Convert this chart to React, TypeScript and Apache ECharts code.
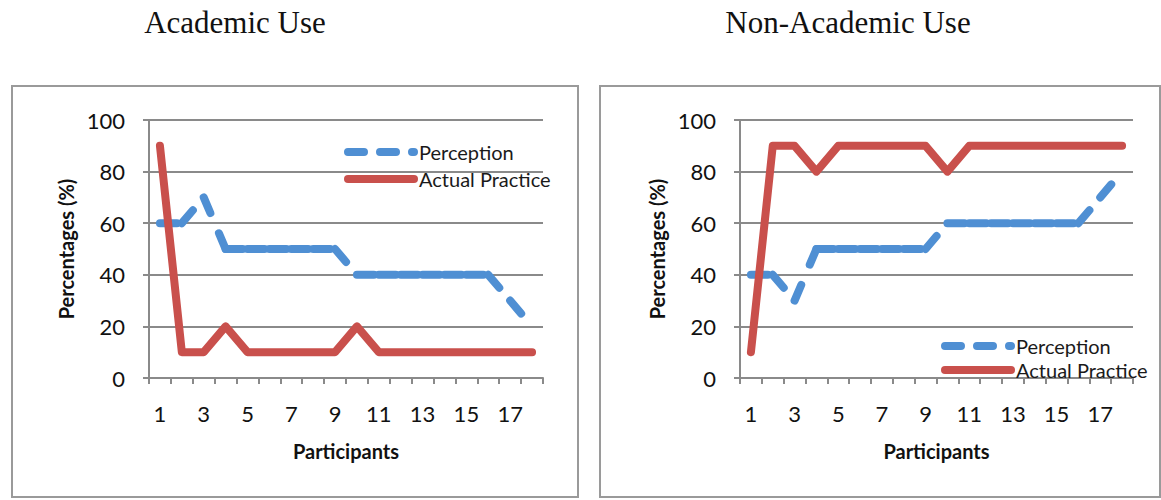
import React, { useEffect, useRef } from 'react';
import * as echarts from 'echarts';

const participants = ['1', '2', '3', '4', '5', '6', '7', '8', '9', '10', '11', '12', '13', '14', '15', '16', '17', '18'];
const academicPerception = [60, 60, 70, 50, 50, 50, 50, 50, 50, 40, 40, 40, 40, 40, 40, 40, 30, 20];
const academicPractice = [90, 10, 10, 20, 10, 10, 10, 10, 10, 20, 10, 10, 10, 10, 10, 10, 10, 10];
const nonAcademicPerception = [40, 40, 30, 50, 50, 50, 50, 50, 50, 60, 60, 60, 60, 60, 60, 60, 70, 80];
const nonAcademicPractice = [10, 90, 90, 80, 90, 90, 90, 90, 90, 80, 90, 90, 90, 90, 90, 90, 90, 90];
const panelTitles = ['Academic Use', 'Non-Academic Use'];
const seriesNames = ['Perception', 'Actual Practice'];
const yMin = 0;
const yMax = 100;
const yStep = 20;

const BLUE = '#4f8fd3';
const RED = '#c9504c';
const AXIS_GRAY = '#8a8a8a';
const SANS = 'Lato';
const DASH = [17, 22];
const LEGEND_DASH = [16, 16];

function perceptionSegments(values: number[], axisIndex: number) {
  // Excel restarts the dash pattern on every segment, so each segment is its own series
  const out: any[] = [];
  for (let i = 0; i < values.length - 1; i++) {
    const data = values.map((v, j) => (j === i || j === i + 1 ? v : null));
    out.push({
      type: 'line',
      name: seriesNames[0],
      xAxisIndex: axisIndex,
      yAxisIndex: axisIndex,
      data,
      symbol: 'none',
      connectNulls: false,
      lineStyle: { color: BLUE, width: 8, type: DASH, cap: 'round', join: 'round' },
      itemStyle: { color: BLUE },
      z: 2,
    });
  }
  return out;
}

function practiceSeries(values: number[], axisIndex: number) {
  return {
    type: 'line',
    name: seriesNames[1],
    xAxisIndex: axisIndex,
    yAxisIndex: axisIndex,
    data: values,
    symbol: 'none',
    lineStyle: { color: RED, width: 8, type: 'solid', cap: 'round', join: 'round' },
    itemStyle: { color: RED },
    z: 3,
  };
}

function xAxis(gridIndex: number) {
  return {
    gridIndex,
    type: 'category',
    data: participants,
    boundaryGap: true,
    name: 'Participants',
    nameLocation: 'middle',
    nameGap: 63,
    nameTextStyle: { fontFamily: SANS, fontWeight: 'bold', fontSize: 20, color: '#111' },
    axisLine: { show: true, lineStyle: { color: AXIS_GRAY, width: 2 } },
    axisTick: { show: true, interval: 0, length: 6, lineStyle: { color: AXIS_GRAY, width: 2 } },
    axisLabel: { interval: 1, margin: 24, fontFamily: SANS, fontSize: 22, color: '#111' },
    splitLine: { show: false },
  };
}

function yAxis(gridIndex: number) {
  return {
    gridIndex,
    type: 'value',
    min: yMin,
    max: yMax,
    interval: yStep,
    name: 'Percentages (%)',
    nameLocation: 'middle',
    nameGap: 73,
    nameTextStyle: { fontFamily: SANS, fontWeight: 'bold', fontSize: 20, color: '#111' },
    axisLine: { show: true, lineStyle: { color: AXIS_GRAY, width: 2 } },
    axisTick: { show: true, length: 6, lineStyle: { color: AXIS_GRAY, width: 2 } },
    axisLabel: { margin: 24, fontFamily: SANS, fontSize: 22, color: '#111' },
    splitLine: { show: true, lineStyle: { color: AXIS_GRAY, width: 2 } },
  };
}

function legend(left: number, top: number, gap: number) {
  return {
    data: [
      { name: seriesNames[0], lineStyle: { type: LEGEND_DASH, width: 8, cap: 'round', color: BLUE } },
      { name: seriesNames[1], lineStyle: { type: 'solid', width: 8, cap: 'round', color: RED } },
    ],
    orient: 'vertical',
    left,
    top,
    padding: 0,
    itemWidth: 66,
    itemHeight: 14,
    itemGap: gap,
    selectedMode: false,
    itemStyle: { opacity: 0 },
    lineStyle: { width: 8, cap: 'round' },
    textStyle: { fontFamily: SANS, fontSize: 20, lineHeight: 20, color: '#1a1a1a' },
  };
}

export default function App() {
  const ref = useRef<HTMLDivElement>(null);

  useEffect(() => {
    if (!ref.current) return;
    const chart = echarts.init(ref.current, null, { renderer: 'svg' });
    const option: any = {
      animation: false,
      backgroundColor: '#ffffff',
      grid: [
        { left: 149, top: 120, width: 394, height: 258 },
        { left: 740, top: 120, width: 393, height: 258 },
      ],
      xAxis: [xAxis(0), xAxis(1)],
      yAxis: [yAxis(0), yAxis(1)],
      legend: [legend(344, 142, 7), legend(941, 336, 4)],
      graphic: [
        {
          type: 'rect',
          shape: { x: 12, y: 86, width: 566, height: 411 },
          style: { fill: 'none', stroke: '#9a9a9a', lineWidth: 2 },
          z: -1,
        },
        {
          type: 'rect',
          shape: { x: 600, y: 86, width: 560, height: 411 },
          style: { fill: 'none', stroke: '#9a9a9a', lineWidth: 2 },
          z: -1,
        },
        {
          type: 'text',
          x: 235,
          y: 22,
          style: {
            text: panelTitles[0],
            fontFamily: 'Liberation Serif',
            fontSize: 31,
            fill: '#111',
            align: 'center',
            verticalAlign: 'middle',
          },
        },
        {
          type: 'text',
          x: 848,
          y: 22,
          style: {
            text: panelTitles[1],
            fontFamily: 'Liberation Serif',
            fontSize: 31,
            fill: '#111',
            align: 'center',
            verticalAlign: 'middle',
          },
        },
      ],
      series: [
        ...perceptionSegments(academicPerception, 0),
        practiceSeries(academicPractice, 0),
        ...perceptionSegments(nonAcademicPerception, 1),
        practiceSeries(nonAcademicPractice, 1),
      ],
    };
    chart.setOption(option);
    return () => chart.dispose();
  }, []);

  return (
    <div
      ref={ref}
      style={{ position: 'absolute', left: 0, top: 0, width: 1161, height: 500, background: '#fff' }}
    />
  );
}
